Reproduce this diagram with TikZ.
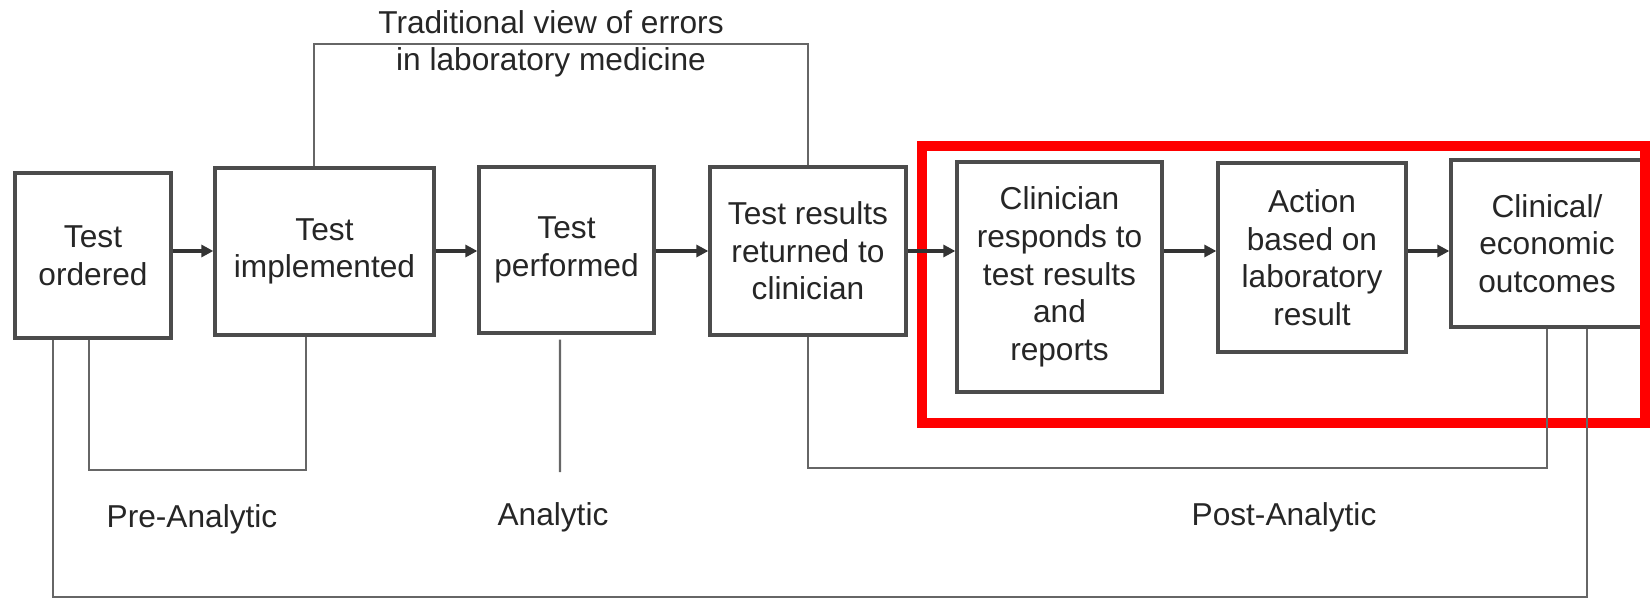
\documentclass[tikz,border=0pt]{standalone}
\usepackage{fontspec}
\setmainfont{Liberation Sans}
\usetikzlibrary{arrows.meta}
\begin{document}
\begin{tikzpicture}[x=0.01cm,y=-0.01cm,font=\fontsize{9}{10.7}\selectfont,
    >={Triangle[length=0.12cm,width=0.12cm]}]
    \tikzset{
        stage/.style={
            draw=black!70,line width=0.9pt,fill=white,text=black!85,
            align=center,inner sep=0pt
        },
        caption/.style={text=black!85,align=center},
        flow/.style={->,line width=1.2pt,draw=black!80},
        link/.style={draw=black!60,line width=0.6pt},
        highlight/.style={draw=red,line width=3.1pt}
    }
    \useasboundingbox (0,0) rectangle (1650,600);

    \node[stage,minimum width=1.56cm,minimum height=1.65cm] (ordered) at (93,255.5)
        {Test\\ordered};
    \node[stage,minimum width=2.19cm,minimum height=1.67cm] (implemented) at (324.5,251.5)
        {Test\\implemented};
    \node[stage,minimum width=1.75cm,minimum height=1.66cm] (performed) at (566.5,250)
        {Test\\performed};
    \node[stage,minimum width=1.96cm,minimum height=1.68cm] (returned) at (808,251)
        {Test results\\returned to\\clinician};
    \node[stage,minimum width=2.05cm,minimum height=2.30cm] (clinician) at (1059.5,277)
        {Clinician\\responds to\\test results\\and\\reports};
    \node[stage,minimum width=1.88cm,minimum height=1.89cm] (action) at (1312,257.5)
        {Action\\based on\\laboratory\\result};
    \node[stage,minimum width=1.92cm,minimum height=1.67cm] (outcomes) at (1547,243.5)
        {Clinical/\\economic\\outcomes};

    \draw[highlight] (922,146) rectangle (1645,423);

    \foreach \a/\b in {ordered/implemented,implemented/performed,performed/returned,
                       returned/clinician,clinician/action,action/outcomes}{
        \draw[flow] (\a.east |- returned.east) -- (\b.west |- returned.east);
    }

    \node[caption] (traditional) at (551,44)
        {Traditional view of errors\\in laboratory medicine};
    \draw[link] ([xshift=-0.105cm]implemented.north) |- (traditional.center)
        -| (returned.north);

    \coordinate (prebottom) at (200,470);
    \coordinate (analyticend) at (560,472);
    \coordinate (postbottom) at (1200,468);
    \coordinate (loopbottom) at (800,597);

    \draw[link] ([xshift=-0.04cm]ordered.south) |- (prebottom)
        -| ([xshift=-0.185cm]implemented.south);
    \draw[link] ([xshift=-0.065cm,yshift=-0.05cm]performed.south) -- (analyticend);
    \draw[link] (returned.south) |- (postbottom) -| (outcomes.south);
    \draw[link] ([xshift=-0.4cm]ordered.south) |- (loopbottom)
        -| ([xshift=0.4cm]outcomes.south);

    \node[caption] (pre) at (192,519) {Pre-Analytic};
    \node[caption] (analytic) at (553,517) {Analytic};
    \node[caption] (post) at (1284,517) {Post-Analytic};
\end{tikzpicture}
\end{document}
